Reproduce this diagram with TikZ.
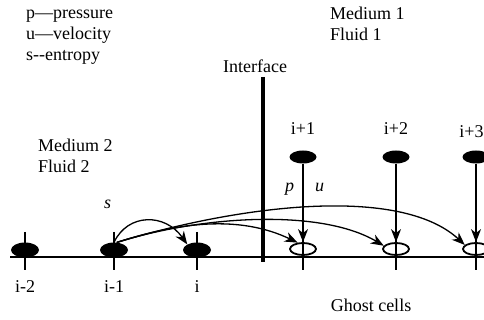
\documentclass[tikz,border=0pt]{standalone}
\usepackage{fontspec}
\setmainfont{Liberation Serif}
\usetikzlibrary{arrows.meta,shapes.geometric}
\begin{document}
\begin{tikzpicture}[x=1pt,y=-1pt,
  lbl/.style={anchor=base west,inner sep=0pt,font=\fontsize{18}{21}\selectfont},
  clbl/.style={anchor=base,inner sep=0pt,font=\fontsize{18}{21}\selectfont},
  cellfull/.style={ellipse,fill=black,minimum width=28pt,minimum height=15pt,inner sep=0pt},
  ghost/.style={ellipse,draw,line width=1.8pt,minimum width=26pt,minimum height=12pt,inner sep=0pt},
  conn/.style={line width=1.3pt,-{Stealth[length=13pt,width=10pt,inset=4pt]}},
  tickline/.style={line width=1.3pt},
]
\useasboundingbox (0,0) rectangle (484,320);

% legend and labels
\node[lbl] (lp) at (26,19) {p—pressure};
\node[lbl] (lu) at (26,40) {u—velocity};
\node[lbl] (ls) at (26,61) {s-{}-entropy};
\node[lbl] (m1) at (330,20) {Medium 1};
\node[lbl] (f1) at (330,41) {Fluid 1};
\node[lbl] (m2) at (38,152) {Medium 2};
\node[lbl] (f2) at (38,173) {Fluid 2};
\node[lbl] (intf) at (223,73) {Interface};
\node[lbl] (sl) at (104,209) {\itshape s};
\node[lbl] (pl) at (285,192) {\itshape p};
\node[lbl] (ul) at (315,192) {\itshape u};
\node[clbl] (gc) at (371,311) {Ghost cells};

% axis
\coordinate (axL) at (10,257);
\coordinate (axR) at (484,257);
\draw[tickline] (axL) -- (axR);

% interface
\coordinate (ifT) at (263,77);
\coordinate (ifB) at (263,262);
\draw[line width=4.5pt] (ifT) -- (ifB);

% lower ticks
\foreach \x/\n in {25/a,114/b,197/c}{
  \coordinate (t\n1) at (\x,232);
  \coordinate (t\n2) at (\x,270);
  \draw[tickline] (t\n1) -- (t\n2);
}

% lower filled cells
\node[cellfull] (c2) at (25,250) {};
\node[cellfull] (c1) at (114,250) {};
\node[cellfull] (c0) at (197,250) {};
\node[clbl] (l2) at (25,292) {i-2};
\node[clbl] (l1) at (114,292) {i-1};
\node[clbl] (l0) at (197,292) {i};

% ghost cells
\node[ghost] (g1) at (303,249) {};
\node[ghost] (g2) at (396,249) {};
\node[ghost] (g3) at (476,249) {};

% upper cells
\node[cellfull,minimum width=27pt,minimum height=13pt] (u1) at (303,157) {};
\node[cellfull,minimum width=27pt,minimum height=13pt] (u2) at (396,157) {};
\node[cellfull,minimum width=27pt,minimum height=13pt] (u3) at (476,157) {};
\node[clbl] (n1) at (303,135) {i+1};
\node[clbl] (n2) at (396,135) {i+2};
\node[clbl] (n3) at (471.5,138) {i+3};

% vertical lines and arrows
\coordinate (v1) at (303,270);
\coordinate (v2) at (396,270);
\coordinate (v3) at (476,270);
\draw[tickline] (u1.south) -- (v1);
\draw[tickline] (u2.south) -- (v2);
\draw[tickline] (u3.south) -- (v3);
\draw[conn] (u1.south) -- (g1.north);
\draw[conn] (u2.south) -- (g2.north);
\draw[conn] (u3.south) -- (g3.north);

% curved arrows from i-1
\draw[conn] (c1.north) .. controls (128,213) and (165,213) .. (c0.150);
\draw[conn] (c1.70) .. controls (180,222) and (240,215) .. (g1.130);
\draw[conn] (c1.70) .. controls (200,216) and (320,208) .. (g2.165);
\draw[conn] (c1.70) .. controls (240,205) and (400,185) .. (g3.160);
\end{tikzpicture}
\end{document}
